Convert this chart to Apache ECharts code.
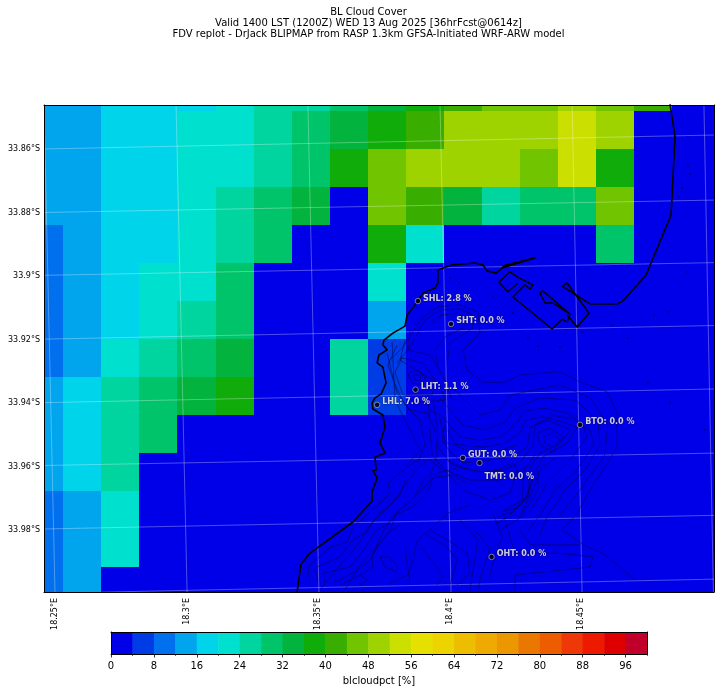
<!DOCTYPE html>
<html>
<head>
<meta charset="utf-8">
<style>html,body{margin:0;padding:0;background:#fff}#chart{width:721px;height:692px}</style>
<script src="https://cdn.jsdelivr.net/npm/echarts@6/dist/echarts.min.js"></script>
</head>
<body>
<div id="chart"></div>
<script>
const titleLines = [
  'BL Cloud Cover',
  'Valid 1400 LST (1200Z) WED 13 Aug 2025 [36hrFcst@0614z]',
  'FDV replot - DrJack BLIPMAP from RASP 1.3km GFSA-Initiated WRF-ARW model'
];
const lonTicks = [18.25, 18.3, 18.35, 18.4, 18.45];
const latTicks = [33.86, 33.88, 33.9, 33.92, 33.94, 33.96, 33.98];
const colorTicks = [0, 8, 16, 24, 32, 40, 48, 56, 64, 72, 80, 88, 96];
const colorMinorTicks = [4, 12, 20, 28, 36, 44, 52, 60, 68, 76, 84, 92, 100];
const binEdges = [0, 4, 8, 12, 16, 20, 24, 28, 32, 36, 40, 44, 48, 52, 56, 60, 64, 68, 72, 76, 80, 84, 88, 92, 96];
const binColors = ['#0000e8', '#003ce6', '#0070ee', '#00a5ee', '#00d4ea', '#00e0cf', '#00d59f', '#00c46a', '#02b33d', '#10ad0a', '#3aae00', '#70c400', '#9fd300', '#cbe000', '#e6e000', '#edd300', '#edbe00', '#eeaa00', '#ec9700', '#ea7800', '#ee5c00', '#ee3808', '#ee1a00', '#de0000', '#c0002a'];

// model grid cell centres
const lonCenters = [18.2459, 18.2604, 18.2748, 18.2893, 18.3037, 18.3183, 18.3327, 18.3472, 18.3616, 18.3761, 18.3906, 18.4050, 18.4195, 18.4340, 18.4484, 18.4629, 18.4774, 18.4918, 18.5063];
const latCenters = [33.8420, 33.8540, 33.8660, 33.8779, 33.8899, 33.9019, 33.9138, 33.9258, 33.9378, 33.9498, 33.9617, 33.9737, 33.9857, 33.9976];

// cloud cover %, one row per latCenters entry
const cloudCover = [
  [14, 14, 18, 18, 18, 22, 26, 26, 30, 34, 38, 42, 46, 46, 50, 46, 42, 2, 2],
  [14, 14, 18, 18, 22, 22, 26, 30, 34, 38, 42, 50, 50, 50, 54, 50, 2, 2, 2],
  [14, 14, 18, 18, 22, 22, 26, 30, 38, 46, 50, 50, 50, 46, 54, 38, 2, 2, 2],
  [14, 14, 18, 18, 22, 26, 30, 34, 2, 46, 42, 34, 26, 30, 30, 46, 2, 2, 2],
  [10, 14, 18, 18, 22, 26, 30, 2, 2, 38, 22, 2, 2, 2, 2, 30, 2, 2, 2],
  [10, 14, 18, 22, 22, 30, 2, 2, 2, 22, 2, 2, 2, 2, 2, 2, 2, 2, 2],
  [10, 14, 18, 22, 26, 30, 2, 2, 2, 14, 2, 2, 2, 2, 2, 2, 2, 2, 2],
  [10, 14, 22, 26, 30, 34, 2, 2, 26, 6, 2, 2, 2, 2, 2, 2, 2, 2, 2],
  [14, 18, 26, 30, 34, 38, 2, 2, 26, 6, 2, 2, 2, 2, 2, 2, 2, 2, 2],
  [14, 18, 26, 30, 2, 2, 2, 2, 2, 2, 2, 2, 2, 2, 2, 2, 2, 2, 2],
  [14, 18, 26, 2, 2, 2, 2, 2, 2, 2, 2, 2, 2, 2, 2, 2, 2, 2, 2],
  [10, 14, 22, 2, 2, 2, 2, 2, 2, 2, 2, 2, 2, 2, 2, 2, 2, 2, 2],
  [10, 14, 22, 2, 2, 2, 2, 2, 2, 2, 2, 2, 2, 2, 2, 2, 2, 2, 2],
  [10, 14, 2, 2, 2, 2, 2, 2, 2, 2, 2, 2, 2, 2, 2, 2, 2, 2, 2]
];

const stations = [
  ['SHL', 18.3879, 33.9079, 2.8],
  ['SHT', 18.4005, 33.9151, 0.0],
  ['LHT', 18.3870, 33.9358, 1.1],
  ['LHL', 18.3724, 33.9406, 7.0],
  ['BTO', 18.4495, 33.9469, 0.0],
  ['GUT', 18.4050, 33.9573, 0.0],
  ['TMT', 18.4113, 33.9589, 0.0],
  ['OHT', 18.4159, 33.9885, 0.0]
];

// lat/lon graticule as it falls on the projected map
const graticule = [
  [[18.2458, 33.8600], [18.5004, 33.8556]],
  [[18.2458, 33.8800], [18.5004, 33.8761]],
  [[18.2458, 33.8998], [18.5004, 33.8958]],
  [[18.2458, 33.9199], [18.5004, 33.9156]],
  [[18.2458, 33.9399], [18.5004, 33.9356]],
  [[18.2458, 33.9597], [18.5004, 33.9558]],
  [[18.2458, 33.9797], [18.5004, 33.9754]],
  [[18.2675, 33.9996], [18.5004, 33.9955]],
  [[18.2458, 33.8461], [18.2500, 33.9996]],
  [[18.2960, 33.8461], [18.3002, 33.9996]],
  [[18.3461, 33.8461], [18.3503, 33.9996]],
  [[18.3963, 33.8461], [18.4005, 33.9996]],
  [[18.4465, 33.8461], [18.4503, 33.9996]],
  [[18.4966, 33.8461], [18.5002, 33.9996]]
];

const coastWest = [[18.3420, 33.9996], [18.3435, 33.9907], [18.3469, 33.9873], [18.3632, 33.9775], [18.3705, 33.9709], [18.3705, 33.9680], [18.3724, 33.9636], [18.3708, 33.9614], [18.3720, 33.9611], [18.3716, 33.9570], [18.3754, 33.9558], [18.3735, 33.9526], [18.3754, 33.9476], [18.3746, 33.9438], [18.3708, 33.9419], [18.3705, 33.9400], [18.3716, 33.9384], [18.3739, 33.9372], [18.3758, 33.9337], [18.3746, 33.9287], [18.3724, 33.9274], [18.3731, 33.9249], [18.3762, 33.9233], [18.3746, 33.9217], [18.3750, 33.9202], [18.3784, 33.9180], [18.3830, 33.9158], [18.3838, 33.9123], [18.3868, 33.9091], [18.3898, 33.9054], [18.3944, 33.9038], [18.3955, 33.9022], [18.3955, 33.8981], [18.4009, 33.8965], [18.4096, 33.8959], [18.4126, 33.8965], [18.4142, 33.8984], [18.4176, 33.8991], [18.4199, 33.8975], [18.4324, 33.8943], [18.4199, 33.8969]];
const harbour = [[18.4259, 33.9022], [18.4221, 33.9050], [18.4187, 33.9019], [18.4229, 33.8987], [18.4256, 33.9003], [18.4316, 33.9028], [18.4305, 33.9041], [18.4286, 33.9028], [18.4240, 33.9066], [18.4389, 33.9167], [18.4427, 33.9136], [18.4446, 33.9145], [18.4457, 33.9120], [18.4392, 33.9085], [18.4362, 33.9085], [18.4343, 33.9054], [18.4354, 33.9047], [18.4457, 33.9120]];
const coastEast = [[18.4446, 33.9123], [18.4484, 33.9161], [18.4529, 33.9117], [18.4446, 33.9022], [18.4427, 33.9032], [18.4533, 33.9088], [18.4636, 33.9088], [18.4658, 33.9079], [18.4746, 33.8997], [18.4841, 33.8808], [18.4856, 33.8562], [18.4837, 33.8458]];

const reefs = [[18.4905, 33.8562], [18.4905, 33.8654], [18.4913, 33.8679], [18.4883, 33.8723], [18.4871, 33.8751], [18.4902, 33.8987], [18.4776, 33.9123], [18.4829, 33.9113], [18.4617, 33.9154], [18.4677, 33.9195], [18.4506, 33.9176], [18.4419, 33.9224], [18.4335, 33.9221], [18.4297, 33.9195], [18.4240, 33.9117], [18.4164, 33.9066], [18.4001, 33.9006], [18.4035, 33.9022], [18.4753, 33.9337], [18.4837, 33.9400], [18.4970, 33.9485]];

// terrain height contours
const contours = [
  [[18.3773, 33.9265], [18.3822, 33.9224], [18.3887, 33.9139], [18.3952, 33.9098], [18.4039, 33.9091], [18.4107, 33.9113], [18.4115, 33.9180], [18.4050, 33.9233], [18.4066, 33.9296], [18.4126, 33.9334], [18.4202, 33.9337], [18.4267, 33.9312], [18.4419, 33.9302], [18.4495, 33.9334], [18.4598, 33.9365], [18.4636, 33.9432], [18.4636, 33.9539], [18.4533, 33.9674], [18.4484, 33.9747], [18.4427, 33.9800], [18.4522, 33.9854], [18.4582, 33.9873], [18.4647, 33.9917], [18.4704, 33.9958]],
  [[18.3800, 33.9274], [18.3849, 33.9224], [18.3906, 33.9139], [18.3963, 33.9107], [18.4039, 33.9104], [18.4088, 33.9123], [18.4088, 33.9164], [18.4001, 33.9211], [18.3990, 33.9274]],
  [[18.3933, 33.9148], [18.3971, 33.9123], [18.4028, 33.9117], [18.4066, 33.9132], [18.4050, 33.9164], [18.3982, 33.9192], [18.3944, 33.9233], [18.3955, 33.9287]],
  [[18.3841, 33.9306], [18.3876, 33.9296], [18.3906, 33.9318], [18.3895, 33.9343], [18.3857, 33.9337], [18.3841, 33.9306]],
  [[18.3860, 33.9312], [18.3887, 33.9312], [18.3891, 33.9328], [18.3868, 33.9328], [18.3860, 33.9312]],
  [[18.3792, 33.9302], [18.3819, 33.9258], [18.3898, 33.9274], [18.3944, 33.9328], [18.3933, 33.9375], [18.3822, 33.9375], [18.3792, 33.9302]],
  [[18.3762, 33.9243], [18.3784, 33.9318], [18.3800, 33.9369], [18.3849, 33.9422], [18.3914, 33.9432], [18.3944, 33.9485], [18.3952, 33.9564], [18.3925, 33.9633]],
  [[18.3781, 33.9208], [18.3792, 33.9391], [18.3830, 33.9454], [18.3887, 33.9548], [18.3830, 33.9602]],
  [[18.3925, 33.9422], [18.3974, 33.9444], [18.4039, 33.9507], [18.4115, 33.9517], [18.4191, 33.9507], [18.4256, 33.9463], [18.4278, 33.9428], [18.4354, 33.9416], [18.4446, 33.9432], [18.4503, 33.9463], [18.4522, 33.9507], [18.4457, 33.9580], [18.4370, 33.9652], [18.4316, 33.9728], [18.4278, 33.9759]],
  [[18.3963, 33.9447], [18.3982, 33.9526], [18.4050, 33.9532], [18.4126, 33.9539], [18.4210, 33.9526], [18.4267, 33.9495], [18.4286, 33.9454], [18.4354, 33.9444], [18.4430, 33.9460], [18.4484, 33.9476], [18.4446, 33.9526], [18.4354, 33.9570], [18.4316, 33.9633], [18.4297, 33.9690], [18.4240, 33.9743], [18.4180, 33.9759]],
  [[18.3982, 33.9469], [18.3971, 33.9517], [18.4001, 33.9554], [18.4050, 33.9589], [18.4153, 33.9580], [18.4229, 33.9570], [18.4294, 33.9539], [18.4305, 33.9476], [18.4373, 33.9454], [18.4457, 33.9485], [18.4419, 33.9526], [18.4343, 33.9558], [18.4305, 33.9602], [18.4297, 33.9696], [18.4256, 33.9731], [18.4191, 33.9743]],
  [[18.4354, 33.9507], [18.4389, 33.9495], [18.4419, 33.9517], [18.4392, 33.9539], [18.4362, 33.9526], [18.4354, 33.9507]],
  [[18.4332, 33.9495], [18.4381, 33.9479], [18.4430, 33.9507], [18.4392, 33.9554], [18.4343, 33.9532], [18.4332, 33.9495]],
  [[18.3925, 33.9580], [18.3990, 33.9621], [18.4050, 33.9674], [18.4153, 33.9706], [18.4229, 33.9684], [18.4256, 33.9611], [18.4240, 33.9589], [18.4153, 33.9621], [18.4050, 33.9605], [18.3990, 33.9580]],
  [[18.3993, 33.9485], [18.4020, 33.9532], [18.4077, 33.9554], [18.4172, 33.9554], [18.4259, 33.9532]],
  [[18.4210, 33.9737], [18.4275, 33.9706], [18.4282, 33.9611], [18.4324, 33.9564]],
  [[18.4267, 33.9753], [18.4316, 33.9674], [18.4343, 33.9611], [18.4400, 33.9573]],
  [[18.3469, 33.9967], [18.3461, 33.9917], [18.3545, 33.9854], [18.3610, 33.9838], [18.3632, 33.9791], [18.3735, 33.9715], [18.3773, 33.9684], [18.3765, 33.9652], [18.3838, 33.9602], [18.3876, 33.9580]],
  [[18.3499, 33.9964], [18.3488, 33.9920], [18.3583, 33.9885], [18.3629, 33.9832], [18.3686, 33.9806], [18.3724, 33.9753], [18.3781, 33.9715], [18.3830, 33.9658], [18.3879, 33.9605], [18.3914, 33.9580]],
  [[18.3526, 33.9967], [18.3518, 33.9936], [18.3621, 33.9917], [18.3667, 33.9869], [18.3716, 33.9806], [18.3765, 33.9778], [18.3800, 33.9743], [18.3849, 33.9712], [18.3898, 33.9668], [18.3952, 33.9621], [18.4028, 33.9605]],
  [[18.3556, 33.9967], [18.3640, 33.9932], [18.3697, 33.9895], [18.3727, 33.9847], [18.3773, 33.9806], [18.3792, 33.9753], [18.3857, 33.9728], [18.3914, 33.9684], [18.3936, 33.9636], [18.4012, 33.9627], [18.4066, 33.9652]],
  [[18.3583, 33.9973], [18.3659, 33.9942], [18.3708, 33.9917], [18.3705, 33.9879], [18.3762, 33.9810], [18.3811, 33.9784]],
  [[18.3735, 33.9885], [18.3773, 33.9885], [18.3803, 33.9917], [18.3800, 33.9932], [18.3754, 33.9917], [18.3735, 33.9885]],
  [[18.3659, 33.9942], [18.3689, 33.9958], [18.3659, 33.9973]],
  [[18.3830, 33.9854], [18.3841, 33.9920], [18.3849, 33.9973]],
  [[18.3925, 33.9800], [18.3876, 33.9832], [18.3860, 33.9895], [18.3841, 33.9942], [18.3773, 33.9967]],
  [[18.3925, 33.9800], [18.3993, 33.9832], [18.4066, 33.9873], [18.4077, 33.9936], [18.4028, 33.9973]],
  [[18.3914, 33.9816], [18.3990, 33.9854], [18.4028, 33.9895], [18.4001, 33.9973]],
  [[18.3895, 33.9857], [18.3952, 33.9917], [18.3974, 33.9948], [18.3952, 33.9973]],
  [[18.3925, 33.9800], [18.3993, 33.9747], [18.4077, 33.9721]],
  [[18.4164, 33.9747], [18.4199, 33.9822], [18.4172, 33.9879], [18.4153, 33.9942]],
  [[18.4202, 33.9747], [18.4229, 33.9822], [18.4248, 33.9873], [18.4408, 33.9873], [18.4544, 33.9885], [18.4533, 33.9917], [18.4362, 33.9932], [18.4248, 33.9942], [18.4248, 33.9989]],
  [[18.3936, 33.9391], [18.3952, 33.9469], [18.3955, 33.9539], [18.4009, 33.9595], [18.4107, 33.9617], [18.4210, 33.9611], [18.4275, 33.9580], [18.4316, 33.9532], [18.4324, 33.9469], [18.4389, 33.9438], [18.4476, 33.9454], [18.4533, 33.9485], [18.4548, 33.9532], [18.4476, 33.9617], [18.4400, 33.9674], [18.4343, 33.9753], [18.4297, 33.9800]],
  [[18.3917, 33.9375], [18.3925, 33.9485], [18.3933, 33.9564], [18.3982, 33.9611], [18.4077, 33.9643], [18.4191, 33.9643], [18.4286, 33.9605]],
  [[18.3963, 33.9384], [18.4047, 33.9469], [18.4134, 33.9485], [18.4210, 33.9460], [18.4248, 33.9416], [18.4343, 33.9384], [18.4476, 33.9391], [18.4563, 33.9454], [18.4571, 33.9532], [18.4514, 33.9611], [18.4438, 33.9674], [18.4373, 33.9753], [18.4343, 33.9816]],
  [[18.4020, 33.9359], [18.4115, 33.9438], [18.4191, 33.9422], [18.4229, 33.9375], [18.4419, 33.9343], [18.4533, 33.9384], [18.4601, 33.9469], [18.4589, 33.9564], [18.4495, 33.9674], [18.4419, 33.9753]],
  [[18.4316, 33.9643], [18.4286, 33.9706], [18.4229, 33.9753], [18.4172, 33.9784]],
  [[18.4335, 33.9611], [18.4335, 33.9674], [18.4267, 33.9762], [18.4191, 33.9800]],
  [[18.3830, 33.9643], [18.3811, 33.9690], [18.3754, 33.9737], [18.3697, 33.9784], [18.3651, 33.9847], [18.3583, 33.9910], [18.3507, 33.9989]],
  [[18.3906, 33.9636], [18.3868, 33.9690], [18.3811, 33.9737], [18.3754, 33.9794], [18.3716, 33.9857], [18.3659, 33.9910], [18.3602, 33.9989]],
  [[18.3800, 33.9217], [18.3765, 33.9280], [18.3792, 33.9343], [18.3830, 33.9406], [18.3887, 33.9454], [18.3906, 33.9532], [18.3879, 33.9586]],
  [[18.3830, 33.9202], [18.3811, 33.9265], [18.3963, 33.9343], [18.3982, 33.9391], [18.3906, 33.9397], [18.3857, 33.9397]],
  [[18.3849, 33.9170], [18.3841, 33.9233], [18.3925, 33.9249], [18.3982, 33.9328], [18.4009, 33.9391]],
  [[18.4096, 33.9800], [18.4153, 33.9857], [18.4119, 33.9942], [18.4107, 33.9989]],
  [[18.4039, 33.9769], [18.4107, 33.9832], [18.4077, 33.9989]],
  [[18.4267, 33.9800], [18.4305, 33.9847], [18.4495, 33.9847]]
];

const cellLon = 0.014467;
const cellLat = 0.01197;
const font = 'DejaVu Sans';
const lonRange = { min: 18.24582, max: 18.50042 };
const latRange = { min: 33.84614, max: 33.99955 };

function binColor(v) {
  let i = binEdges.length - 1;
  while (i > 0 && binEdges[i] > v) i--;
  return binColors[i];
}

function renderCell(params, api) {
  const a = api.coord([api.value(0) - cellLon / 2, api.value(1) - cellLat / 2]);
  const b = api.coord([api.value(0) + cellLon / 2, api.value(1) + cellLat / 2]);
  const x = Math.round(a[0]);
  const y = Math.round(a[1]);
  // one pixel of overlap so neighbouring cells never show a seam
  const shape = echarts.graphic.clipRectByRect(
    { x: x, y: y, width: Math.round(b[0]) - x + 1, height: Math.round(b[1]) - y + 1 },
    params.coordSys
  );
  return shape && { type: 'rect', shape: shape, style: { fill: binColor(api.value(2)) } };
}

function renderBin(params, api) {
  const a = api.coord([api.value(0), 0]);
  const b = api.coord([api.value(0) + 4, 1]);
  return {
    type: 'rect',
    shape: { x: a[0], y: b[1], width: b[0] - a[0] + 0.5, height: a[1] - b[1] },
    style: { fill: binColor(api.value(0)) }
  };
}

function lineSeries(data, width, color, z) {
  return {
    type: 'line', data: data, xAxisIndex: 0, yAxisIndex: 0, z: z,
    showSymbol: false, symbol: 'none', silent: true, animation: false,
    lineStyle: { width: width, color: color, join: 'round' }
  };
}

const frame = { show: true, onZero: false, lineStyle: { color: '#000', width: 1 } };
const hidden = { show: false };

const cells = [];
latCenters.forEach((lat, r) => lonCenters.forEach((lon, c) => cells.push([lon, lat, cloudCover[r][c]])));

const option = {
  backgroundColor: '#fff',
  animation: false,
  title: {
    text: titleLines.join('\n'), left: 363.5, top: 2, textAlign: 'center',
    textStyle: { fontFamily: font, fontSize: 10, fontWeight: 'normal', color: '#000', lineHeight: 11 }
  },
  grid: [
    { left: 44, top: 105, width: 670, height: 487 },
    { left: 111, top: 632, width: 536, height: 22 }
  ],
  xAxis: [
    { type: 'value', gridIndex: 0, position: 'bottom', ...lonRange, z: 9, axisLine: frame, axisTick: hidden, splitLine: hidden,
      axisLabel: { customValues: lonTicks, rotate: 90, margin: 6, fontFamily: font, fontSize: 8, color: '#000', formatter: v => v + '°E' } },
    { type: 'value', gridIndex: 0, position: 'top', ...lonRange, z: 9, axisLine: frame, axisTick: hidden, axisLabel: hidden, splitLine: hidden },
    { type: 'value', gridIndex: 1, position: 'bottom', min: 0, max: 100, z: 9, axisLine: frame, splitLine: hidden,
      axisTick: { customValues: colorTicks, length: 3.5, lineStyle: { color: '#000', width: 0.8 } },
      axisLabel: { customValues: colorTicks, margin: 7, fontFamily: font, fontSize: 10, color: '#000' },
      name: 'blcloudpct [%]', nameLocation: 'middle', nameGap: 22, nameTextStyle: { fontFamily: font, fontSize: 10, color: '#000' } },
    { type: 'value', gridIndex: 1, position: 'bottom', min: 0, max: 100, z: 9, axisLine: hidden, splitLine: hidden, axisLabel: hidden,
      axisTick: { customValues: colorMinorTicks, length: 2, lineStyle: { color: '#000', width: 0.6 } } },
    { type: 'value', gridIndex: 1, position: 'top', min: 0, max: 100, z: 9, axisLine: frame, axisTick: hidden, axisLabel: hidden, splitLine: hidden }
  ],
  yAxis: [
    { type: 'value', gridIndex: 0, position: 'left', inverse: true, ...latRange, z: 9, axisLine: frame, axisTick: hidden, splitLine: hidden,
      axisLabel: { customValues: latTicks, margin: 4, fontFamily: font, fontSize: 8, color: '#000', formatter: v => v + '°S' } },
    { type: 'value', gridIndex: 0, position: 'right', inverse: true, ...latRange, z: 9, axisLine: frame, axisTick: hidden, axisLabel: hidden, splitLine: hidden },
    { type: 'value', gridIndex: 1, position: 'left', min: 0, max: 1, z: 9, axisLine: frame, axisTick: hidden, axisLabel: hidden, splitLine: hidden },
    { type: 'value', gridIndex: 1, position: 'right', min: 0, max: 1, z: 9, axisLine: frame, axisTick: hidden, axisLabel: hidden, splitLine: hidden }
  ],
  series: [
    { type: 'custom', renderItem: renderCell, data: cells, xAxisIndex: 0, yAxisIndex: 0, z: 1, silent: true, clip: true, encode: { x: 0, y: 1 } },
    ...graticule.map(g => lineSeries(g, 1, 'rgba(255,255,255,0.3)', 2)),
    ...contours.map(c => lineSeries(c, 0.6, 'rgba(0,0,60,0.8)', 3)),
    lineSeries(coastWest, 1.6, '#000', 4),
    lineSeries(harbour, 1.4, '#000', 4),
    lineSeries(coastEast, 1.6, '#000', 4),
    { type: 'scatter', data: reefs, xAxisIndex: 0, yAxisIndex: 0, z: 3, silent: true, symbolSize: 2, itemStyle: { color: 'rgba(0,0,70,0.9)' } },
    {
      type: 'scatter', xAxisIndex: 0, yAxisIndex: 0, z: 5, silent: true, symbolSize: 5.5,
      data: stations.map(s => ({
        value: [s[1], s[2]],
        label: {
          show: true, position: 'right', distance: 2,
          offset: s[0] === 'TMT' ? [0, 14] : [0, -2.5],
          formatter: s[0] + ': ' + s[3].toFixed(1) + ' %',
          fontFamily: font, fontSize: 8, fontWeight: 'bold', color: '#fff',
          textShadowColor: '#000', textShadowBlur: 1.5
        }
      })),
      itemStyle: { color: '#000', borderColor: '#bbb', borderWidth: 0.8 }
    },
    { type: 'custom', renderItem: renderBin, data: binEdges.map(v => [v]), xAxisIndex: 2, yAxisIndex: 2, z: 1, silent: true, encode: { x: 0 } }
  ]
};

const myChart = echarts.init(document.getElementById('chart'), null, { renderer: 'canvas' });
myChart.setOption(option);
</script>
</body>
</html>
